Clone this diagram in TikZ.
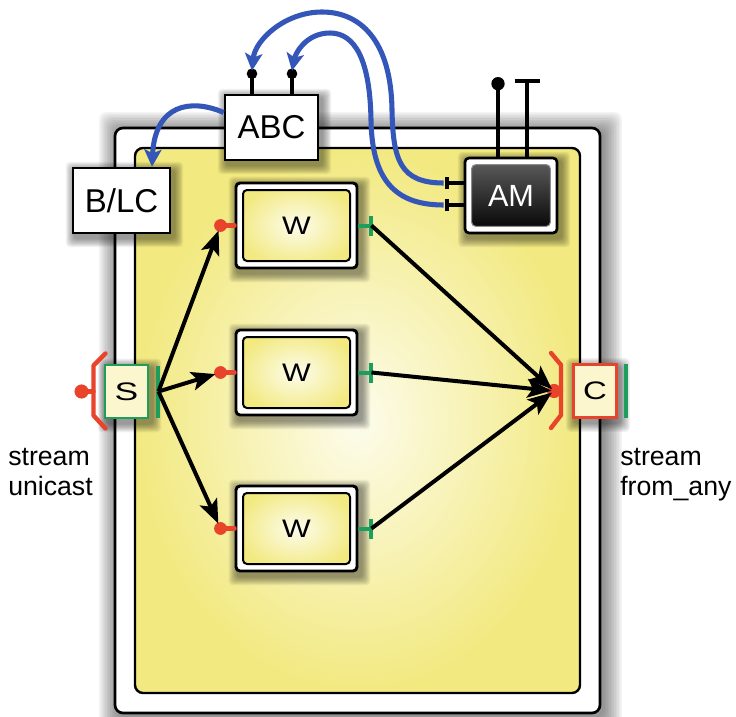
\documentclass[tikz,border=0pt]{standalone}
\usepackage{fontspec}
\setmainfont{Liberation Sans}
\usetikzlibrary{arrows.meta,calc}
\definecolor{yedge}{RGB}{242,233,128}
\definecolor{ycenter}{RGB}{253,252,236}
\definecolor{pred}{RGB}{232,68,44}
\definecolor{pgreen}{RGB}{30,158,92}
\definecolor{pblue}{RGB}{52,86,184}
\definecolor{sfill}{RGB}{251,246,206}
\pgfdeclarelayer{framelayer}
\pgfdeclarelayer{shad}
\pgfsetlayers{framelayer,shad,main}
\newcommand\softshadow[1]{%
  \foreach \i in {1,...,8}{%
    \fill[black,opacity=0.06,rounded corners=3pt]
      ($(#1.north west)+({3-1.1*\i},{4-1.1*\i})$) rectangle ($(#1.south east)+({3+1.1*\i},{4+1.1*\i})$);
  }}
\tikzset{
  plainbox/.style={draw, line width=1.9pt, fill=white, inner sep=0pt, font=\fontsize{24.75}{28}\selectfont},
  wbox/.style={draw, line width=2.2pt, fill=white, rounded corners=3pt, inner sep=0pt,
    minimum width=90.75pt, minimum height=63.75pt, font=\fontsize{19}{20}\selectfont,
    path picture={\draw[line width=1.5pt, inner color=ycenter, outer color=yedge]
      ($(path picture bounding box.north west)+(5.25pt,-5.25pt)$) rectangle
      ($(path picture bounding box.south east)+(-5.25pt,5.25pt)$);}},
  ambox/.style={draw, line width=2pt, fill=white, rounded corners=3pt, inner sep=0pt,
    minimum width=69pt, minimum height=56.25pt, text=white, font=\fontsize{23}{26}\selectfont,
    path picture={\draw[draw=black!45, line width=0.8pt, top color=black!62, bottom color=black]
      ($(path picture bounding box.north west)+(5pt,-5pt)$) rectangle
      ($(path picture bounding box.south east)+(-5pt,5pt)$);}},
  portbox/.style={line width=2.2pt, fill=sfill, inner sep=0pt, minimum width=32.25pt,
    minimum height=39.75pt, font=\fontsize{19}{20}\selectfont},
  redport/.style={pred, line width=3.3pt, line cap=round, line join=round},
  greenport/.style={pgreen, line width=3pt},
  blk/.style={line width=3pt, -{Stealth[length=18pt,width=14pt,inset=4pt]}},
  blu/.style={pblue, line width=3.8pt, -{Stealth[length=13pt,width=13pt,inset=3pt]}},
  pin/.style={line width=3pt},
  lbl/.style={inner sep=0pt, font=\fontsize{20}{22}\selectfont},
}
\begin{document}
\begin{tikzpicture}[x=0.75pt,y=-0.75pt]
\useasboundingbox (0,0) rectangle (736,717);
% frame
\begin{pgfonlayer}{framelayer}
  \foreach \i in {1,...,12}{%
    \fill[black,opacity=0.045,rounded corners=6pt] ({115-1.6*\i+3},{128-1.6*\i+3}) rectangle ({600+1.6*\i+3},{713+1.6*\i+3});}
  \draw[line width=2pt, fill=white, rounded corners=6pt] (115,128) rectangle (600,713);
  \draw[line width=1.8pt, rounded corners=6pt, inner color=ycenter, outer color=yedge] (135,148) rectangle (580,693);
\end{pgfonlayer}

% boxes
\node[plainbox, minimum width=69.75pt, minimum height=48.75pt] (abc) at (271.5,127.5) {ABC};
\node[plainbox, minimum width=72.75pt, minimum height=48.75pt] (blc) at (121.5,200.5) {B/LC};
\node[ambox] (am) at (511,195.5) {AM};
\node[wbox] (w1) at (296.5,225.5) {\scalebox{1.2}[1]{W}};
\node[wbox] (w2) at (296.5,372.5) {\scalebox{1.2}[1]{W}};
\node[wbox] (w3) at (296.5,528.5) {\scalebox{1.2}[1]{W}};
\node[portbox, draw=pgreen] (s) at (126.5,391.5) {\scalebox{1.4}[1]{S}};
\node[portbox, draw=pred] (c) at (595,391) {\scalebox{1.3}[1]{C}};

\begin{pgfonlayer}{shad}
  \softshadow{abc}\softshadow{blc}\softshadow{am}
  \softshadow{w1}\softshadow{w2}\softshadow{w3}
  \softshadow{s}\softshadow{c}
\end{pgfonlayer}

% W ports
\foreach \w in {w1,w2,w3}{%
  \coordinate (\w in) at ($(\w.west)+(-14,0)$);
  \coordinate (\w out) at ($(\w.east)+(13,0)$);
  \draw[redport] (\w.west) -- (\w in);
  \fill[pred] (\w in) circle[radius=4.8pt];
  \draw[greenport] (\w.east) -- (\w out);
  \draw[greenport] ($(\w out)+(0,-10)$) -- ($(\w out)+(0,10)$);
}

% S ports
\coordinate (sdot) at ($(s.west)+(-22,0)$);
\coordinate (sout) at ($(s.east)+(9,0)$);
\draw[redport] ($(s.west)+(2,-38)$) -- ($(s.west)+(-10,-26)$) -- ($(s.west)+(-10,24)$) -- ($(s.west)+(2,37)$);
\draw[redport] (sdot) -- ($(s.west)+(-10,0)$);
\fill[pred] (sdot) circle[radius=5.3pt];
\draw[greenport] ($(sout)+(0,-26)$) -- ($(sout)+(0,26)$);

% C ports
\coordinate (cin) at ($(c.west)+(-18,0)$);
\coordinate (cout) at ($(c.east)+(8,0)$);
\draw[redport] ($(c.west)+(-21,-38)$) -- ($(c.west)+(-11,-26)$) -- ($(c.west)+(-11,24)$) -- ($(c.west)+(-21,37)$);
\draw[redport] (cin) -- ($(c.west)+(-11,0)$);
\fill[pred] (cin) circle[radius=5.3pt];
\draw[greenport] ($(cout)+(0,-27)$) -- ($(cout)+(0,27)$);

% black arrows
\foreach \w in {w1,w2,w3}{%
  \draw[blk, shorten >=4pt] (sout) -- (\w in);
  \draw[blk, shorten >=2pt] (\w out) -- (cin);
}

% ABC pins
\coordinate (abcp1) at ($(abc.north)+(-19.5,-20)$);
\coordinate (abcp2) at ($(abc.north)+(20.5,-20)$);
\draw[pin] ($(abc.north)+(-19.5,0)$) -- (abcp1);
\draw[pin] ($(abc.north)+(20.5,0)$) -- (abcp2);
\fill (abcp1) circle[radius=4pt];
\fill (abcp2) circle[radius=4pt];
\coordinate (abct1) at ($(abcp1)+(0,-3)$);
\coordinate (abct2) at ($(abcp2)+(0,-3)$);

% AM pins
\coordinate (amb) at ($(am.north)+(-13,-73)$);
\coordinate (amt) at ($(am.north)+(16,-76)$);
\draw[pin] ($(am.north)+(-13,0)$) -- (amb);
\fill (amb) circle[radius=5pt];
\draw[pin] ($(am.north)+(16,0)$) -- (amt);
\draw[pin] ($(amt)+(-12.5,0)$) -- ($(amt)+(12.5,0)$);

% AM left ports
\coordinate (amq1) at ($(am.west)+(-17,-12.5)$);
\coordinate (amq2) at ($(am.west)+(-17,9.5)$);
\draw[pin] ($(am.west)+(0,-12.5)$) -- (amq1);
\draw[pin] ($(am.west)+(0,9.5)$) -- (amq2);
\draw[pin] ($(amq1)+(0,-6)$) -- ($(amq1)+(0,6)$);
\draw[pin] ($(amq2)+(0,-6)$) -- ($(amq2)+(0,6)$);
\coordinate (amb1) at ($(amq1)+(-3,0)$);
\coordinate (amb2) at ($(amq2)+(-3,0)$);

% blue arrows
\draw[blu] (amb1) .. controls (400,183) and (393,160) .. (392,110)
  .. controls (391,40) and (360,12) .. (322,12)
  .. controls (285,12) and (255,40) .. (abct1);
\draw[blu] (amb2) .. controls (395,205) and (372,180) .. (371,120)
  .. controls (370,60) and (355,33) .. (330,33)
  .. controls (305,33) and (295,55) .. (abct2);
\coordinate (abcw) at ($(abc.west)+(0,-15)$);
\coordinate (blct) at ($(blc.north)+(30.5,0)$);
\draw[blu] (abcw) .. controls (190,98) and (155,105) .. (blct);

% labels
\node[lbl, anchor=base west] (su1) at (8,465) {stream};
\node[lbl, anchor=base west] (su2) at (8,495) {unicast};
\node[lbl, anchor=base west] (sf1) at (620,465) {stream};
\node[lbl, anchor=base west] (sf2) at (620,495) {from\_any};
\end{tikzpicture}
\end{document}
